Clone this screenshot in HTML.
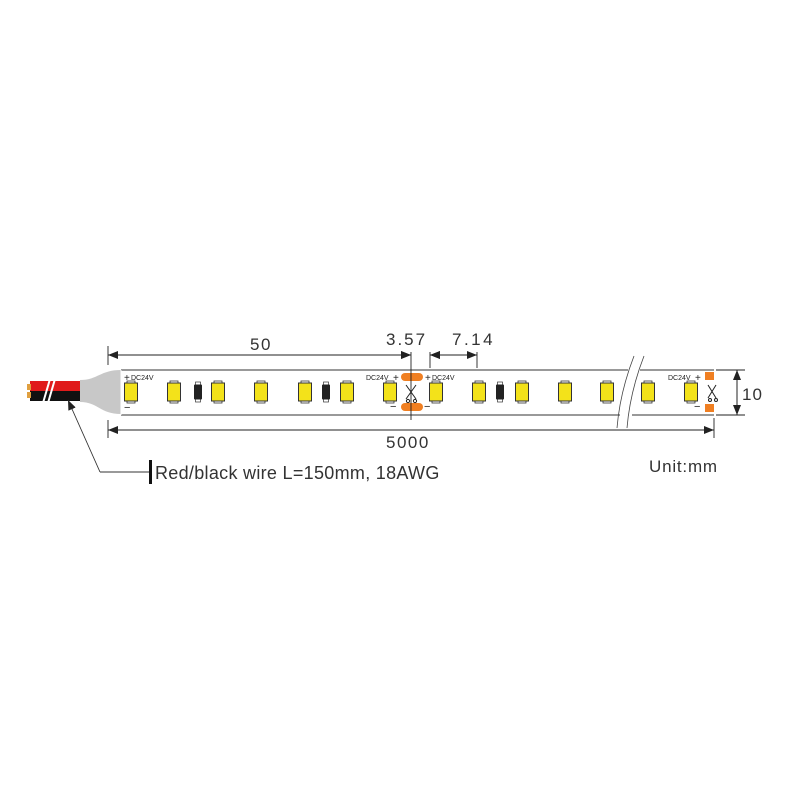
<!DOCTYPE html>
<html><head><meta charset="utf-8"><style>
html,body{margin:0;padding:0;background:#fff;width:800px;height:800px;overflow:hidden}
text{font-family:"Liberation Sans",sans-serif;fill:#333}
</style></head><body>
<svg width="800" height="800" viewBox="0 0 800 800" xmlns="http://www.w3.org/2000/svg">
<defs>
<g id="led">
 <rect x="-4" y="-11" width="8" height="3" fill="#fff" stroke="#333" stroke-width="0.8"/>
 <rect x="-4" y="8" width="8" height="3" fill="#fff" stroke="#333" stroke-width="0.8"/>
 <rect x="-6.5" y="-9" width="13" height="18" fill="#f3e21a" stroke="#333" stroke-width="1"/>
</g>
<g id="res">
 <rect x="-2.5" y="-10" width="5" height="3" fill="#fff" stroke="#333" stroke-width="0.7"/>
 <rect x="-2.5" y="7" width="5" height="3" fill="#fff" stroke="#333" stroke-width="0.7"/>
 <rect x="-4" y="-7.5" width="8" height="15" rx="1" fill="#222"/>
</g>
<marker id="ar" markerWidth="10" markerHeight="8" refX="10" refY="4" orient="auto" markerUnits="userSpaceOnUse">
 <path d="M0,0 L10,4 L0,8 z" fill="#222"/>
</marker>
</defs>

<rect x="30" y="381" width="52" height="10" fill="#e01b1b"/>
<rect x="30" y="391" width="52" height="10" fill="#111"/>
<rect x="27" y="384" width="4" height="6" fill="#e0a040"/>
<rect x="27" y="392" width="4" height="6" fill="#e0a040"/>
<line x1="43" y1="403" x2="50" y2="379" stroke="#fff" stroke-width="2"/>
<line x1="48" y1="403" x2="55" y2="379" stroke="#fff" stroke-width="2"/>
<path d="M80,380 C98,380 100,370 121,370 L121,414 C100,414 98,402 80,402 Z" fill="#c8c8c8"/>

<line x1="121" y1="370" x2="628" y2="370" stroke="#333" stroke-width="1"/>
<line x1="121" y1="415" x2="620" y2="415" stroke="#333" stroke-width="1"/>
<line x1="640" y1="370" x2="714" y2="370" stroke="#333" stroke-width="1"/>
<line x1="632" y1="415" x2="714" y2="415" stroke="#333" stroke-width="1"/>
<line x1="121" y1="370" x2="121" y2="415" stroke="#fff" stroke-width="1"/>
<rect x="624" y="371" width="12" height="43" fill="#fff"/>
<path d="M634,356 Q620,392 617,428" fill="none" stroke="#444" stroke-width="0.8"/>
<path d="M644,356 Q630,392 627,428" fill="none" stroke="#444" stroke-width="0.8"/>

<use href="#led" x="131" y="392"/>
<use href="#led" x="174" y="392"/>
<use href="#res" x="198" y="392"/>
<use href="#led" x="218" y="392"/>
<use href="#led" x="261" y="392"/>
<use href="#led" x="305" y="392"/>
<use href="#res" x="326" y="392"/>
<use href="#led" x="347" y="392"/>
<use href="#led" x="390" y="392"/>
<use href="#led" x="436" y="392"/>
<use href="#led" x="479" y="392"/>
<use href="#res" x="500" y="392"/>
<use href="#led" x="522" y="392"/>
<use href="#led" x="565" y="392"/>
<use href="#led" x="607" y="392"/>
<use href="#led" x="648" y="392"/>
<use href="#led" x="691" y="392"/>

<text x="124" y="381" font-size="10" style="fill:#222">+</text>
<text x="131" y="380" font-size="7" style="fill:#222">DC24V</text>
<text x="124" y="411" font-size="11" style="fill:#222">−</text>
<text x="366" y="380" font-size="7" style="fill:#222">DC24V</text>
<text x="393" y="381" font-size="10" style="fill:#222">+</text>
<text x="425" y="381" font-size="10" style="fill:#222">+</text>
<text x="432" y="380" font-size="7" style="fill:#222">DC24V</text>
<text x="390" y="410" font-size="11" style="fill:#222">−</text>
<text x="424" y="410" font-size="11" style="fill:#222">−</text>
<text x="668" y="380" font-size="7" style="fill:#222">DC24V</text>
<text x="695" y="381" font-size="10" style="fill:#222">+</text>
<text x="694" y="410" font-size="11" style="fill:#222">−</text>

<rect x="401" y="373" width="22" height="8" rx="4" fill="#f07f22"/>
<rect x="401" y="403" width="22" height="8" rx="4" fill="#f07f22"/>
<g stroke="#222" stroke-width="1" fill="none">
 <line x1="406" y1="385" x2="416" y2="399"/><line x1="416" y1="385" x2="406" y2="399"/>
 <circle cx="408" cy="401" r="1.6"/><circle cx="415" cy="401" r="1.6"/>
</g>
<path d="M705,372 h9 v8 h-9 z" fill="#f07f22"/>
<path d="M705,404 h9 v8 h-9 z" fill="#f07f22"/>
<g stroke="#222" stroke-width="1" fill="none">
 <line x1="708" y1="385" x2="716" y2="398"/><line x1="716" y1="385" x2="708" y2="398"/>
 <circle cx="710" cy="400" r="1.5"/><circle cx="716" cy="400" r="1.5"/>
</g>

<g stroke="#222" stroke-width="0.9">
 <line x1="108" y1="346" x2="108" y2="365"/>
 <line x1="411" y1="352" x2="411" y2="420"/>
 <line x1="430" y1="352" x2="430" y2="368"/>
 <line x1="477" y1="352" x2="477" y2="368"/>
 <line x1="108" y1="355" x2="411" y2="355" marker-end="url(#ar)"/>
 <line x1="411" y1="355" x2="108" y2="355" marker-end="url(#ar)"/>
 <line x1="400" y1="355" x2="411" y2="355" marker-end="url(#ar)"/>
 <line x1="441" y1="355" x2="430" y2="355" marker-end="url(#ar)"/>
 <line x1="430" y1="355" x2="477" y2="355" marker-end="url(#ar)"/>
 <line x1="477" y1="355" x2="430" y2="355" marker-end="url(#ar)"/>
 <line x1="108" y1="420" x2="108" y2="438"/>
 <line x1="714" y1="418" x2="714" y2="438"/>
 <line x1="108" y1="430" x2="714" y2="430" marker-end="url(#ar)"/>
 <line x1="714" y1="430" x2="108" y2="430" marker-end="url(#ar)"/>
 <line x1="716" y1="370" x2="745" y2="370"/>
 <line x1="716" y1="415" x2="745" y2="415"/>
 <line x1="737" y1="370" x2="737" y2="415" marker-end="url(#ar)"/>
 <line x1="737" y1="415" x2="737" y2="370" marker-end="url(#ar)"/>
</g>
<text x="250" y="350" font-size="17" letter-spacing="1.5">50</text>
<text x="386" y="345" font-size="17" letter-spacing="2">3.57</text>
<text x="452" y="345" font-size="17" letter-spacing="2.5">7.14</text>
<text x="386" y="448" font-size="17" letter-spacing="1.5">5000</text>
<text x="742" y="400" font-size="17" letter-spacing="1">10</text>

<polyline points="100,472 68,400" fill="none" stroke="#333" stroke-width="0.9" marker-end="url(#ar)"/>
<line x1="100" y1="472" x2="151" y2="472" stroke="#333" stroke-width="0.9"/>
<rect x="149" y="460" width="3" height="24" fill="#111"/>
<text x="155" y="479" font-size="18" letter-spacing="0.3">Red/black wire L=150mm, 18AWG</text>
<text x="649" y="472" font-size="17" letter-spacing="0.8">Unit:mm</text>
</svg>
</body></html>
